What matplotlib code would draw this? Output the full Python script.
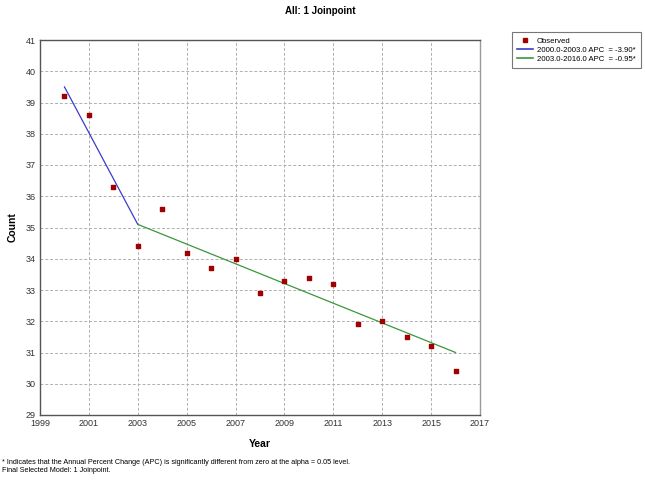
import matplotlib
matplotlib.use("Agg")
import matplotlib.pyplot as plt
from matplotlib.lines import Line2D

plt.rcParams['font.family'] = ['Liberation Sans', 'DejaVu Sans']

years = [2000, 2001, 2002, 2003, 2004, 2005, 2006, 2007, 2008, 2009, 2010, 2011, 2012, 2013, 2014, 2015, 2016]
observed = [39.2, 38.6, 36.3, 34.4, 35.6, 34.2, 33.7, 34.0, 32.9, 33.3, 33.4, 33.2, 31.9, 32.0, 31.5, 31.2, 30.4]
seg1_x = [2000, 2003]
seg1_y = [39.5, 35.1]
seg2_x = [2003, 2016]
seg2_y = [35.1, 31.0]
xticks = list(range(1999, 2018, 2))
yticks = list(range(29, 42))
legend_labels = ["Observed", "2000.0-2003.0 APC  = -3.90*", "2003.0-2016.0 APC  = -0.95*"]

fig = plt.figure(figsize=(6.45, 4.8), dpi=100)
ax = fig.add_axes([40/645, 1-415/480, 440/645, 375/480])

ax.plot(seg1_x, seg1_y, color='#3c3cc8', lw=0.9)
ax.plot(seg2_x, seg2_y, color='#3c963c', lw=0.9)
ax.scatter(years, observed, marker='s', s=8, color='#a00000', zorder=3)

ax.set_xlim(1999, 2017)
ax.set_ylim(29, 41)
ax.set_xticks(xticks)
ax.set_yticks(yticks)
ax.tick_params(length=0, labelsize=6.5, pad=3, colors='#333333')
ax.grid(True, ls=(0, (3, 2)), color='#b0b0b0', lw=0.7)
for s in ax.spines.values():
    s.set_color('#555555')
    s.set_linewidth(1.0)
ax.spines['right'].set_color('#999999')

ax.set_xlabel('Year', fontsize=7.5, fontweight='bold', labelpad=8)
ax.set_ylabel('Count', fontsize=7.5, fontweight='bold', labelpad=6)

fig.text(320/645, 1-11/480, 'All: 1 Joinpoint', fontsize=7, fontweight='bold',
         ha='center', va='center')

handles = [Line2D([], [], marker='s', ls='none', color='#a00000', markersize=2.5),
           Line2D([], [], color='#3c3cc8', lw=1.2),
           Line2D([], [], color='#3c963c', lw=1.2)]
leg = fig.legend(handles, legend_labels, loc='upper left', bbox_to_anchor=(512/645, 1-32/480),
                 fontsize=5.6, frameon=True, fancybox=False, edgecolor='#555555',
                 handlelength=2.0, handletextpad=0.5, borderpad=0.7, labelspacing=0.2,
                 borderaxespad=0)
leg.get_frame().set_linewidth(0.8)

fig.text(2/645, 1-463/480, '* Indicates that the Annual Percent Change (APC) is significantly different from zero at the alpha = 0.05 level.',
         fontsize=5.2, va='center', ha='left')
fig.text(2/645, 1-470/480, 'Final Selected Model: 1 Joinpoint.', fontsize=5.2, va='center', ha='left')

fig.savefig('out.png', dpi=100)
